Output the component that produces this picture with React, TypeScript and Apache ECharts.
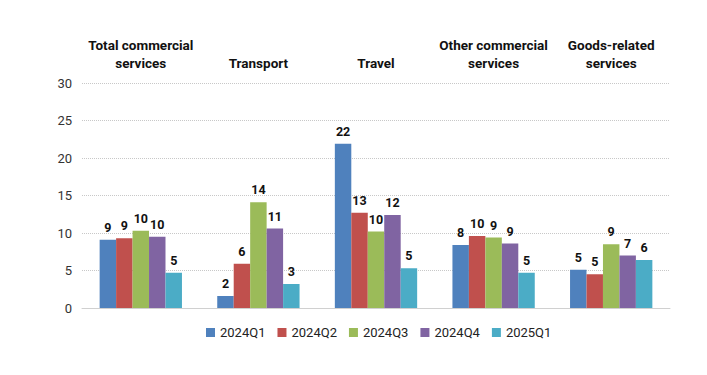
import React, { useEffect, useRef } from "react";
import * as echarts from "echarts";

const categories = [
  "Total commercial\nservices",
  "Transport",
  "Travel",
  "Other commercial\nservices",
  "Goods-related\nservices",
];
const seriesNames = ["2024Q1", "2024Q2", "2024Q3", "2024Q4", "2025Q1"];
const q1_2024 = [9.1, 1.6, 21.9, 8.4, 5.1];
const q2_2024 = [9.3, 5.9, 12.7, 9.6, 4.5];
const q3_2024 = [10.3, 14.1, 10.2, 9.4, 8.5];
const q4_2024 = [9.5, 10.6, 12.4, 8.6, 7.0];
const q1_2025 = [4.7, 3.2, 5.3, 4.7, 6.4];
const colors = ["#4F81BD", "#C0504D", "#9BBB59", "#8064A2", "#4BACC6"];
const yTicks = { min: 0, max: 30, interval: 5 };

const FONT = "Roboto, 'Noto Sans', sans-serif";

export default function App() {
  const ref = useRef<HTMLDivElement>(null);
  useEffect(() => {
    document.body.style.margin = "0";
    const chart = echarts.init(ref.current!, null, { renderer: "svg" });
    const values = [q1_2024, q2_2024, q3_2024, q4_2024, q1_2025];
    chart.setOption({
      animation: false,
      textStyle: { fontFamily: FONT },
      color: colors,
      grid: { left: 82, right: 37, top: 83, bottom: 67 },
      legend: {
        data: seriesNames,
        bottom: 31,
        left: 201,
        icon: "rect",
        itemWidth: 9,
        itemHeight: 9,
        itemGap: 12,
        textStyle: { fontSize: 13, color: "#222", fontFamily: FONT },
      },
      xAxis: [
        {
          type: "category",
          data: categories,
          position: "bottom",
          axisLine: { show: true, lineStyle: { color: "#D0D0D0", width: 1 } },
          axisTick: { show: false },
          axisLabel: { show: false },
        },
        {
          type: "category",
          data: categories,
          position: "top",
          axisLine: { show: false },
          axisTick: { show: false },
          axisLabel: {
            show: true,
            interval: 0,
            margin: 11,
            fontSize: 13.5,
            fontWeight: "bold",
            color: "#111",
            lineHeight: 18,
            fontFamily: FONT,
          },
        },
      ],
      yAxis: {
        type: "value",
        min: yTicks.min,
        max: yTicks.max,
        interval: yTicks.interval,
        axisLine: { show: false },
        axisTick: { show: false },
        axisLabel: { fontSize: 13, color: "#333", margin: 10, fontFamily: FONT },
        splitLine: { lineStyle: { color: "#C8C8C8", type: "dotted", width: 1 } },
      },
      series: seriesNames.map((name, i) => ({
        name,
        type: "bar",
        xAxisIndex: 0,
        data: values[i],
        barGap: "0%",
        barCategoryGap: "30%",
        itemStyle: { color: colors[i] },
        label: {
          show: true,
          position: "top",
          distance: 6,
          fontSize: 12.5,
          fontWeight: "bold",
          color: "#111",
          fontFamily: FONT,
          formatter: (p: any) => String(Math.round(p.value)),
        },
      })),
    });
    return () => chart.dispose();
  }, []);
  return (
    <div
      ref={ref}
      style={{ position: "fixed", left: 0, top: 0, width: 707, height: 375, background: "#fff" }}
    />
  );
}
